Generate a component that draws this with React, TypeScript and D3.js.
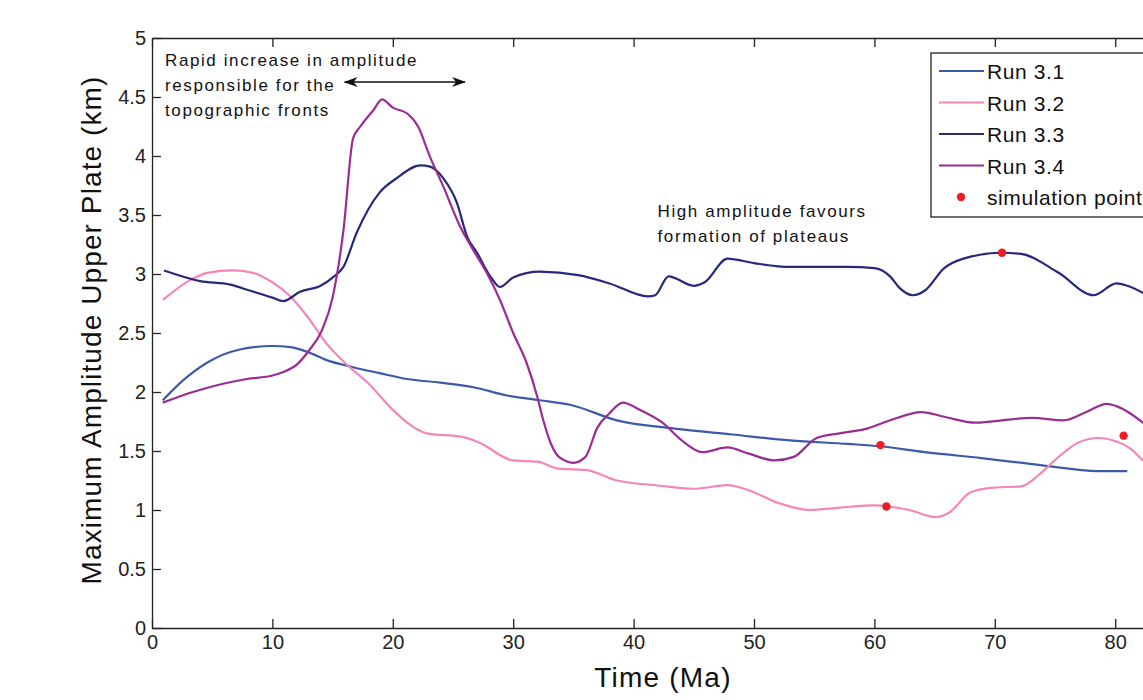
import * as d3 from "d3";
import React, { useRef, useEffect } from "react";

// [time (Ma), amplitude (km)]
const run31 = [
	[0.9, 1.93], [2.6, 2.1], [4.6, 2.25], [7.3, 2.36], [10, 2.39], [11.5, 2.38], [12.9, 2.34], [14.5, 2.27],
	[16.7, 2.21], [18.9, 2.16], [21.2, 2.11], [23.9, 2.08], [26.7, 2.04], [29.5, 1.97], [32.2, 1.93], [34.8, 1.89],
	[38.6, 1.76], [43.4, 1.69], [48.2, 1.64], [53, 1.59], [57.8, 1.56], [60.5, 1.54], [64.2, 1.49], [68.9, 1.44],
	[73.8, 1.38], [78.6, 1.33], [81, 1.33],
];

const run32 = [
	[0.9, 2.78], [3.2, 2.95], [4.6, 3.01], [6.7, 3.03], [8.4, 3.01], [10, 2.93], [11.5, 2.81], [12.9, 2.64],
	[14.5, 2.41], [16.2, 2.23], [17.9, 2.08], [20, 1.85], [21.2, 1.74], [22.8, 1.65], [25.8, 1.62], [27.2, 1.57],
	[30, 1.42], [32, 1.41], [33.8, 1.35], [36, 1.34], [38.6, 1.25], [41.8, 1.21], [45, 1.18], [47.8, 1.21],
	[49.5, 1.17], [52, 1.06], [54.6, 1.0], [57.1, 1.02], [60, 1.04], [62.9, 1.0], [65.1, 0.94], [66.1, 0.97],
	[68, 1.15], [69.9, 1.19], [72.2, 1.2], [73.8, 1.31], [75.3, 1.45], [76.9, 1.57], [78.6, 1.61], [80.1, 1.58],
	[81.4, 1.51], [82.3, 1.42], [83, 1.36],
];

const run33 = [
	[1, 3.03], [4, 2.94], [6.5, 2.91], [8.1, 2.86], [10, 2.8], [10.9, 2.77], [12.3, 2.85], [14, 2.9], [15, 2.97],
	[15.9, 3.06], [17, 3.35], [18.9, 3.69], [20.3, 3.81], [22.3, 3.92], [23.1, 3.91], [24.2, 3.81], [25.3, 3.61],
	[26.2, 3.31], [27, 3.18], [28.1, 2.98], [28.9, 2.89], [30, 2.97], [32.2, 3.02], [35.4, 2.99], [38, 2.92],
	[41.2, 2.81], [41.8, 2.82], [42.9, 2.98], [45, 2.9], [45.9, 2.93], [47.8, 3.13], [50.1, 3.09], [53, 3.06],
	[57.8, 3.06], [60, 3.05], [61.3, 2.98], [62.1, 2.88], [63.2, 2.82], [64.2, 2.86], [65.8, 3.05], [67.4, 3.13],
	[70.6, 3.18], [72.2, 3.17], [75.3, 3.01], [78.2, 2.82], [80.1, 2.92], [81, 2.9], [82.3, 2.84], [83, 2.8],
];

const run34 = [
	[0.9, 1.91], [3.4, 2.0], [5.9, 2.07], [7.9, 2.11], [10, 2.14], [10.9, 2.17], [12, 2.23], [13.1, 2.36],
	[14.1, 2.52], [15, 2.8], [15.9, 3.37], [16.7, 4.15], [17.3, 4.25], [18.4, 4.39], [19.1, 4.48], [20, 4.41],
	[21.2, 4.36], [22.1, 4.25], [23.1, 3.99], [24.2, 3.74], [25.6, 3.4], [26.7, 3.2], [27.8, 3.01], [28.9, 2.78],
	[30, 2.5], [31.1, 2.25], [32, 1.96], [32.5, 1.76], [33.1, 1.57], [33.8, 1.45], [35, 1.4], [36, 1.45],
	[37, 1.7], [38, 1.82], [39.1, 1.91], [40.5, 1.85], [42.4, 1.74], [44, 1.59], [45.7, 1.49], [47.8, 1.53],
	[49.5, 1.48], [51.7, 1.42], [53.3, 1.45], [55.2, 1.61], [57.1, 1.65], [59.4, 1.69], [61.3, 1.76], [63.9, 1.83],
	[65.8, 1.79], [68.4, 1.74], [70.6, 1.76], [73.1, 1.78], [75.7, 1.76], [77.6, 1.83], [79.3, 1.9], [80.1, 1.88],
	[82.3, 1.74], [83, 1.68],
];

const simPoints = [[60.5, 1.55], [61, 1.03], [70.6, 3.18], [80.7, 1.63]];

const series = [
	{ name: "Run 3.1", data: run31, color: "#3d5aa8" },
	{ name: "Run 3.2", data: run32, color: "#f486b8" },
	{ name: "Run 3.3", data: run33, color: "#27297a" },
	{ name: "Run 3.4", data: run34, color: "#9a2c93" },
];

const xTicks = [0, 10, 20, 30, 40, 50, 60, 70, 80];
const yTicks = [0, 0.5, 1, 1.5, 2, 2.5, 3, 3.5, 4, 4.5, 5];

const WIDTH = 1143;
const HEIGHT = 700;
const FONT = "'Liberation Sans', Arial, Helvetica, sans-serif";

const App = () => {
	const svgRef = useRef(null);

	useEffect(() => {
		const svg = d3.select(svgRef.current);
		svg.selectAll("*").remove();

		const left = 152, top = 38, bottom = 628;
		const x = d3.scaleLinear().domain([0, 90]).range([left, left + 12.04 * 90]);
		const y = d3.scaleLinear().domain([0, 5]).range([bottom, top]);

		svg.append("rect").attr("width", WIDTH).attr("height", HEIGHT).attr("fill", "white");

		const styleAxis = (g) => {
			g.selectAll("path, line").attr("stroke", "#222").attr("stroke-width", 1.3);
			g.selectAll("text").attr("font-family", FONT).attr("font-size", 20).attr("fill", "#222");
		};

		svg.append("g")
			.attr("transform", `translate(0,${bottom})`)
			.call(d3.axisBottom(x).tickValues(xTicks).tickSizeInner(-9).tickSizeOuter(0).tickPadding(7).tickFormat((d) => String(d)))
			.call(styleAxis);

		svg.append("g")
			.attr("transform", `translate(0,${top})`)
			.call(d3.axisTop(x).tickValues(xTicks).tickSizeInner(-9).tickSizeOuter(0).tickFormat(() => ""))
			.call(styleAxis);

		svg.append("g")
			.attr("transform", `translate(${left},0)`)
			.call(d3.axisLeft(y).tickValues(yTicks).tickSizeInner(-9).tickSizeOuter(0).tickPadding(6).tickFormat((d) => String(d)))
			.call(styleAxis);

		const line = d3.line().x((d) => x(d[0])).y((d) => y(d[1])).curve(d3.curveMonotoneX);

		series.forEach((s) => {
			svg.append("path").datum(s.data).attr("fill", "none").attr("stroke", s.color).attr("stroke-width", 2.2).attr("d", line);
		});

		svg.append("g").selectAll("circle").data(simPoints).join("circle")
			.attr("cx", (d) => x(d[0])).attr("cy", (d) => y(d[1])).attr("r", 4.2).attr("fill", "#ee1c24");

		// annotations
		const note = svg.append("g").attr("font-family", FONT).attr("font-size", 17).attr("letter-spacing", 1.6).attr("fill", "#111");
		["Rapid increase in amplitude", "responsible for the", "topographic fronts"].forEach((t, i) => {
			note.append("text").attr("x", x(1.08)).attr("y", 66 + i * 25).text(t);
		});
		["High amplitude favours", "formation of plateaus"].forEach((t, i) => {
			note.append("text").attr("x", x(41.99)).attr("y", 217 + i * 25).text(t);
		});

		const defs = svg.append("defs");
		defs.append("marker").attr("id", "ah").attr("viewBox", "0 -6 14 12").attr("refX", 13).attr("refY", 0)
			.attr("markerWidth", 14).attr("markerHeight", 12).attr("markerUnits", "userSpaceOnUse").attr("orient", "auto-start-reverse")
			.append("path").attr("d", "M0,-5L14,0L0,5L4,0Z").attr("fill", "#111");
		svg.append("line").attr("x1", x(16)).attr("x2", x(26)).attr("y1", y(4.627)).attr("y2", y(4.627))
			.attr("stroke", "#111").attr("stroke-width", 1.3).attr("marker-start", "url(#ah)").attr("marker-end", "url(#ah)");

		// legend (runs off the right edge, as in the original figure)
		const lg = svg.append("g").attr("transform", "translate(931,53)");
		lg.append("rect").attr("width", 300).attr("height", 164).attr("fill", "white").attr("stroke", "#222").attr("stroke-width", 1.3);
		const rows = [...series.map((s) => ({ name: s.name, color: s.color, dot: false })), { name: "simulation points", color: "#ee1c24", dot: true }];
		rows.forEach((r, i) => {
			const ry = 18 + i * 31.5;
			if (r.dot) {
				lg.append("circle").attr("cx", 30).attr("cy", ry).attr("r", 4.2).attr("fill", r.color);
			} else {
				lg.append("line").attr("x1", 8).attr("x2", 53).attr("y1", ry).attr("y2", ry).attr("stroke", r.color).attr("stroke-width", 2.2);
			}
			lg.append("text").attr("x", 56).attr("y", ry + 8).attr("font-family", FONT).attr("font-size", 21)
				.attr("letter-spacing", 0.6).attr("fill", "#111").text(r.name);
		});

		// axis titles
		svg.append("text").attr("x", 663).attr("y", 687).attr("text-anchor", "middle").attr("font-family", FONT)
			.attr("font-size", 28).attr("letter-spacing", 1.2).attr("fill", "#111").text("Time (Ma)");
		svg.append("text").attr("transform", "translate(101,330) rotate(-90)").attr("text-anchor", "middle").attr("font-family", FONT)
			.attr("font-size", 28).attr("letter-spacing", 1.1).attr("fill", "#111").text("Maximum Amplitude Upper Plate (km)");
	}, []);

	return <svg ref={svgRef} width={WIDTH} height={HEIGHT} style={{ position: "absolute", left: 0, top: 0 }} />;
};

export default App;
